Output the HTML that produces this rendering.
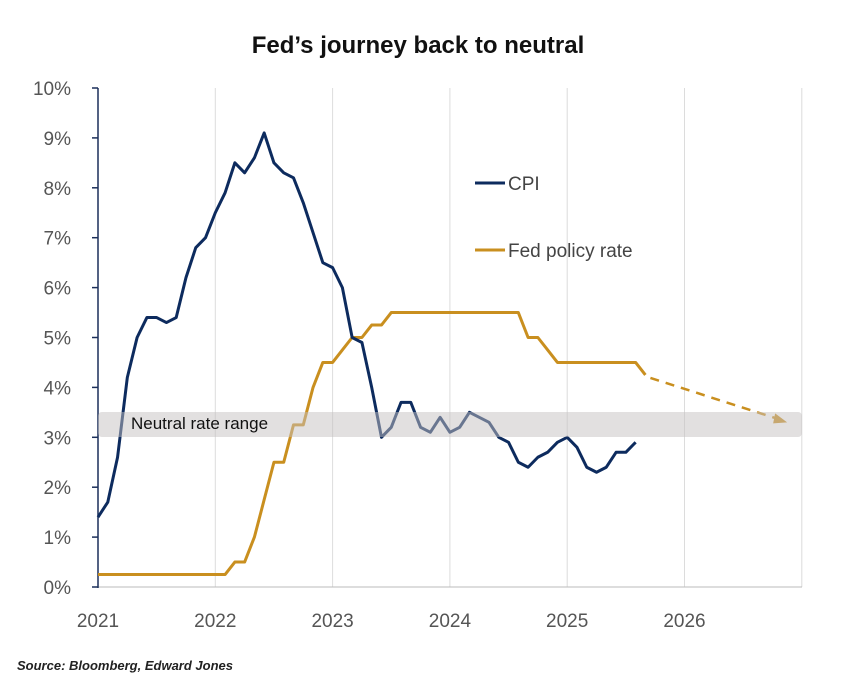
<!DOCTYPE html>
<html><head><meta charset="utf-8"><style>
body{margin:0;background:#fff;width:856px;height:687px;overflow:hidden;font-family:"Liberation Sans",sans-serif}
</style></head><body>
<svg width="856" height="687" xmlns="http://www.w3.org/2000/svg">
<text x="418" y="53" text-anchor="middle" font-size="24" font-weight="bold" fill="#111">Fed’s journey back to neutral</text>
<g id="grid"></g>
<g id="axes"></g>
<g id="series"></g>
<rect x="98" y="412" width="704" height="25" rx="4" fill="#c6c2c2" fill-opacity="0.5"/>
<text x="131" y="429" font-size="17" fill="#111">Neutral rate range</text>
<line x1="475" y1="183" x2="505" y2="183" stroke="#0d2b5e" stroke-width="3"/>
<text x="508" y="190" font-size="19" fill="#444">CPI</text>
<line x1="475" y1="250" x2="505" y2="250" stroke="#c98f1f" stroke-width="3"/>
<text x="508" y="257" font-size="19" fill="#444">Fed policy rate</text>
<text x="17" y="670" font-size="13" font-style="italic" font-weight="bold" fill="#222">Source: Bloomberg, Edward Jones</text>
</svg>
<script>
const years=[2021,2022,2023,2024,2025,2026];
const yTicks=[0,1,2,3,4,5,6,7,8,9,10];
const cpi=[1.4,1.7,2.6,4.2,5.0,5.4,5.4,5.3,5.4,6.2,6.8,7.0,
7.5,7.9,8.5,8.3,8.6,9.1,8.5,8.3,8.2,7.7,7.1,6.5,
6.4,6.0,5.0,4.9,4.0,3.0,3.2,3.7,3.7,3.2,3.1,3.4,
3.1,3.2,3.5,3.4,3.3,3.0,2.9,2.5,2.4,2.6,2.7,2.9,
3.0,2.8,2.4,2.3,2.4,2.7,2.7,2.9];
const fed=[0.25,0.25,0.25,0.25,0.25,0.25,0.25,0.25,0.25,0.25,0.25,0.25,
0.25,0.25,0.5,0.5,1.0,1.75,2.5,2.5,3.25,3.25,4.0,4.5,
4.5,4.75,5.0,5.0,5.25,5.25,5.5,5.5,5.5,5.5,5.5,5.5,
5.5,5.5,5.5,5.5,5.5,5.5,5.5,5.5,5.0,5.0,4.75,4.5,
4.5,4.5,4.5,4.5,4.5,4.5,4.5,4.5,4.25];
const fedForecastEnd=[70.5,3.3];
const NS="http://www.w3.org/2000/svg";
const X=m=>98+m*(117.3/12);
const Y=v=>587-v*49.9;
function el(t,a,p){const e=document.createElementNS(NS,t);for(const k in a)e.setAttribute(k,a[k]);document.getElementById(p).appendChild(e);return e;}
years.concat([2027]).forEach((yr,i)=>{
 if(i>0){const g=el('line',{x1:X(i*12),x2:X(i*12),y1:88,y2:587,stroke:'#dcdcdc','stroke-width':1},'grid');
 
 }
 if(i<years.length){const t=el('text',{x:X(i*12),y:627,'text-anchor':'middle','font-size':19,fill:'#555'},'axes');t.textContent=yr;
 
 }
});
const xa=el('line',{x1:98,x2:802,y1:587,y2:587,stroke:'#bbb','stroke-width':1},'axes');


const ya=el('line',{x1:98,x2:98,y1:88,y2:588,stroke:'#1b2f5a','stroke-width':1.5},'axes');


yTicks.forEach(v=>{
 const tk=el('line',{x1:92,x2:98,y1:Y(v),y2:Y(v),stroke:'#1b2f5a','stroke-width':1.5},'axes');
 
 
 const t=el('text',{x:71,y:Y(v)+7,'text-anchor':'end','font-size':19,fill:'#555'},'axes');t.textContent=v+'%';
 
 
});
const fp=el('polyline',{points:fed.map((v,i)=>X(i)+','+Y(v)).join(' '),fill:'none',stroke:'#c98f1f','stroke-width':3,'stroke-linejoin':'round'},'series');


const li=fed.length-1;
const x1=X(li)+5,y1=Y(fed[li])+3,x2=X(fedForecastEnd[0]),y2=Y(fedForecastEnd[1]);
const fd=el('line',{x1:x1,y1:y1,x2:x2-8,y2:y2-3,stroke:'#c98f1f','stroke-width':2.5,'stroke-dasharray':'9 7'},'series');


const ah=el('polygon',{points:`${x2},${y2} ${x2-12},${y2-9} ${x2-14},${y2+1}`,fill:'#c98f1f'},'series');


const cp=el('polyline',{points:cpi.map((v,i)=>X(i)+','+Y(v)).join(' '),fill:'none',stroke:'#0d2b5e','stroke-width':3,'stroke-linejoin':'round'},'series');


</script>
</body></html>
